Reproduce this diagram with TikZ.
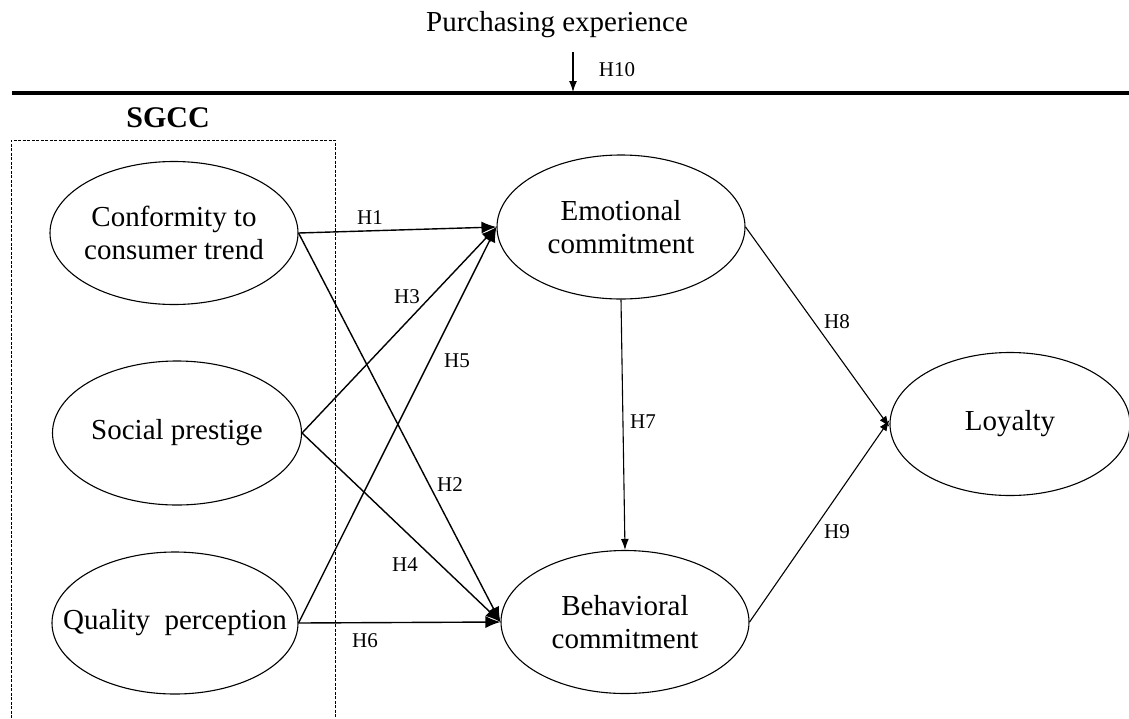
\documentclass[tikz,border=0pt]{standalone}
\usepackage{fontspec}
\setmainfont{Liberation Serif}
\usetikzlibrary{shapes.geometric,arrows.meta}
\newcommand{\zb}[1]{\makebox[0pt][c]{#1}}
\tikzset{
  latent/.style={draw, ellipse, line width=1.1pt, inner sep=0pt, align=center,
    font=\fontsize{29}{33}\selectfont},
  hlabel/.style={font=\fontsize{21}{24}\selectfont, inner sep=0pt},
  bigarrow/.style={line width=1.4pt, -{Latex[length=15pt,width=12pt]}},
  smallarrow/.style={line width=1.1pt, -{Latex[length=11pt,width=8pt]}},
}
\begin{document}
\begin{tikzpicture}[x=1pt,y=-1pt]
\useasboundingbox (0,0) rectangle (1129,718);
% top
\node[font=\fontsize{29}{32}\selectfont, inner sep=0pt] (pe) at (557,25) {Purchasing experience};
\coordinate (lineL) at (12,93);
\coordinate (lineR) at (1129,93);
\draw[line width=4pt] (lineL) -- (lineR);
\coordinate (h10s) at (573,52);
\coordinate (h10e) at (573,92);
\draw[smallarrow] (h10s) -- (h10e);
\node[hlabel] (lh10) at (617,70) {H10};
% SGCC box
\node[font=\bfseries\fontsize{30}{32}\selectfont, inner sep=0pt] (sgcc) at (168,118) {SGCC};
\coordinate (bx1) at (11,718);
\coordinate (bx2) at (11,140);
\coordinate (bx3) at (335,140);
\coordinate (bx4) at (335,718);
\draw[line width=0.9pt, dash pattern=on 3pt off 1.5pt] (bx1) -- (bx2) -- (bx3) -- (bx4);
% latent nodes
\node[latent, minimum width=248pt, minimum height=143pt] (conf) at (174,233) {\zb{Conformity to}\\\zb{consumer trend}};
\node[latent, minimum width=249pt, minimum height=144pt] (soc) at (177,433) {\zb{Social prestige}};
\node[latent, minimum width=246pt, minimum height=142pt] (qual) at (175,623) {\zb{Quality\ \ perception}};
\node[latent, minimum width=248pt, minimum height=144pt] (emo) at (621,227) {\zb{Emotional}\\\zb{commitment}};
\node[latent, minimum width=248pt, minimum height=143pt] (beh) at (625,622) {\zb{Behavioral}\\\zb{commitment}};
\node[latent, minimum width=240pt, minimum height=143pt] (loy) at (1010,424) {\zb{Loyalty}};
% arrows
\draw[bigarrow] (conf.east) -- (emo.west);
\draw[bigarrow] (soc.east) -- (emo.west);
\draw[bigarrow] (qual.east) -- (emo.west);
\draw[bigarrow] (conf.east) -- (beh.west);
\draw[bigarrow] (soc.east) -- (beh.west);
\draw[bigarrow] (qual.east) -- (beh.west);
\draw[smallarrow] (emo.south) -- (beh.north);
\draw[smallarrow] (emo.east) -- ([yshift=-3pt]loy.west);
\draw[smallarrow] (beh.east) -- ([yshift=4pt]loy.west);
% labels
\node[hlabel] (l1) at (370,218) {H1};
\node[hlabel] (l3) at (407,297) {H3};
\node[hlabel] (l5) at (457,361) {H5};
\node[hlabel] (l2) at (450,485) {H2};
\node[hlabel] (l4) at (405,565) {H4};
\node[hlabel] (l6) at (365,641) {H6};
\node[hlabel] (l7) at (643,422) {H7};
\node[hlabel] (l8) at (837,322) {H8};
\node[hlabel] (l9) at (837,532) {H9};
\end{tikzpicture}
\end{document}
